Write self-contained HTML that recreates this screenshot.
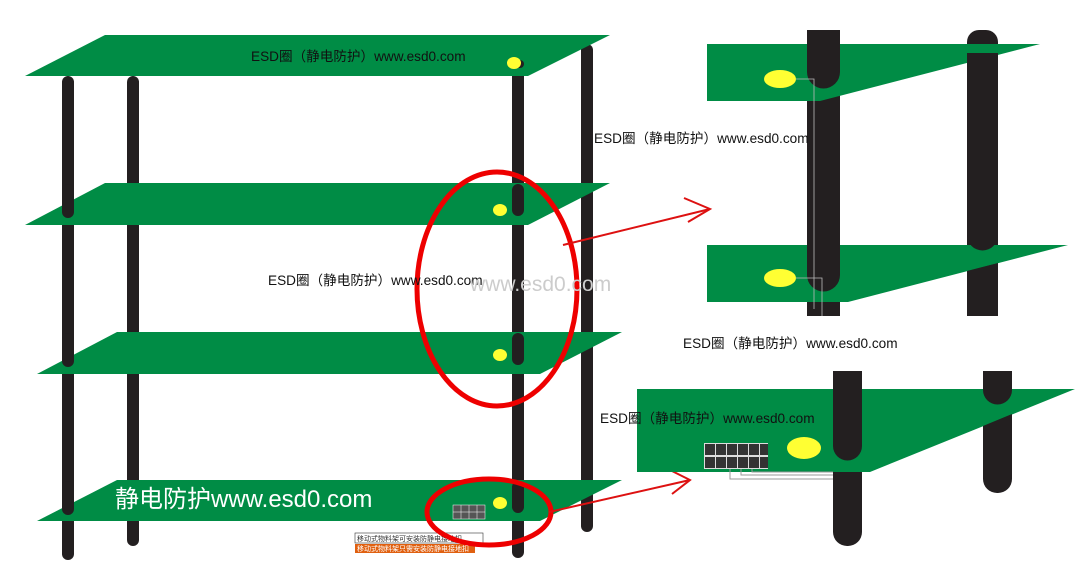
<!DOCTYPE html>
<html><head><meta charset="utf-8"><style>
html,body{margin:0;padding:0;background:#fff;width:1091px;height:573px;overflow:hidden}
svg{display:block}
text{font-family:"Liberation Sans","Noto Sans CJK SC",sans-serif}
</style></head><body>
<svg width="1091" height="573" viewBox="0 0 1091 573" xmlns="http://www.w3.org/2000/svg">
<g fill="#231f20">
<rect x="127" y="76" width="12" height="470" rx="6"/>
<rect x="581" y="44" width="12" height="488" rx="6"/>
<rect x="62" y="76" width="12" height="484" rx="6"/>
<rect x="512" y="60" width="12" height="498" rx="6"/>
</g>
<g fill="#008c45">
<polygon points="105,35 610,35 528,76 25,76"/>
<polygon points="105,183 610,183 528,225 25,225"/>
<polygon points="117,332 622,332 540,374 37,374"/>
<polygon points="117,480 622,480 540,521 37,521"/>
</g>
<g fill="#231f20">
<rect x="512" y="60" width="12" height="8" rx="4"/>
<rect x="512" y="184" width="12" height="32" rx="6"/>
<rect x="512" y="333" width="12" height="32" rx="6"/>
<rect x="512" y="481" width="12" height="32" rx="6"/>
<rect x="62" y="184" width="12" height="34" rx="6"/>
<rect x="62" y="333" width="12" height="34" rx="6"/>
<rect x="62" y="481" width="12" height="34" rx="6"/>
</g>
<g fill="#ffff33">
<ellipse cx="514" cy="63" rx="7" ry="6"/>
<ellipse cx="500" cy="210" rx="7" ry="6"/>
<ellipse cx="500" cy="355" rx="7" ry="6"/>
<ellipse cx="500" cy="503" rx="7" ry="6"/>
</g>
<text x="251" y="61" font-size="13.6" fill="#111">ESD圈（静电防护）www.esd0.com</text>
<text x="115" y="507" font-size="24" fill="#fff">静电防护www.esd0.com</text>
<rect x="453" y="505" width="32" height="14" fill="#555" stroke="#fff" stroke-width="0.5"/>
<path d="M453,512 h32 M461,505 v14 M469,505 v14 M477,505 v14" stroke="#fff" stroke-width="0.5"/>
<rect x="355" y="533" width="128" height="10" fill="#fff" stroke="#333" stroke-width="0.6"/>
<text x="357" y="541" font-size="7" fill="#333">移动式物料架可安装防静电接地扣</text>
<rect x="355" y="544" width="120" height="9" fill="#e06010"/>
<text x="357" y="551" font-size="7" fill="#fff">移动式物料架只需安装防静电接地扣</text>
<ellipse cx="497" cy="289" rx="80" ry="117" fill="none" stroke="#e00" stroke-width="5"/>
<ellipse cx="489" cy="512" rx="62" ry="33" fill="none" stroke="#e00" stroke-width="5"/>
<text x="268" y="285" font-size="13.6" fill="#111">ESD圈（静电防护）www.esd0.com</text>
<text x="470" y="291" font-size="21" fill="#ccc">www.esd0.com</text>
<g stroke="#d11" stroke-width="2" fill="none">
<line x1="563" y1="245" x2="710" y2="209"/>
<polyline points="684,198 710,209 688,222"/>
<line x1="549" y1="512" x2="690" y2="480"/>
<polyline points="666,468 690,480 672,494"/>
</g>
<!-- top right inset -->
<g fill="#231f20">
<rect x="807" y="30" width="33" height="286"/>
<rect x="967" y="30" width="31" height="286" rx="12"/>
<rect x="967" y="200" width="31" height="116"/>
</g>
<polygon points="707,44 1040,44 820,101 707,101" fill="#008c45"/>
<polygon points="707,245 1068,245 848,302 707,302" fill="#008c45"/>
<g fill="#231f20">
<path d="M807,44 h33 v28 a16.5,16.5 0 0 1 -33,0 z"/>
<rect x="967" y="53" width="31" height="190"/>
<path d="M807,245 h33 v30 a16.5,16.5 0 0 1 -33,0 z"/>
<path d="M967,245 h31 v-10 a15.5,15.5 0 0 1 -31,0 z"/>
<polygon points="967,271 998,263 998,316 967,316"/>
</g>
<path d="M796,79 h18 v230 M796,278 h26 v38" stroke="#bbb" fill="none" stroke-width="0.8"/>
<ellipse cx="780" cy="79" rx="16" ry="9" fill="#ffff33"/>
<ellipse cx="780" cy="278" rx="16" ry="9" fill="#ffff33"/>
<text x="594" y="143" font-size="13.6" fill="#111">ESD圈（静电防护）www.esd0.com</text>
<text x="683" y="348" font-size="13.6" fill="#111">ESD圈（静电防护）www.esd0.com</text>
<!-- bottom right inset -->
<g fill="#231f20">
<rect x="833" y="371" width="29" height="175" rx="14"/>
<rect x="833" y="371" width="29" height="30"/>
<rect x="983" y="371" width="29" height="122" rx="14"/>
<rect x="983" y="371" width="29" height="30"/>
</g>
<polygon points="637,389 1075,389 870,472 637,472" fill="#008c45"/>
<g fill="#231f20">
<path d="M833,389 h29 v57 a14.5,14.5 0 0 1 -29,0 z"/>
<path d="M983,389 h29 v1 a14.5,14.5 0 0 1 -29,0 z"/>
<polygon points="983,426 1012,414 1012,440 983,440"/>
</g>
<ellipse cx="804" cy="448" rx="17" ry="11" fill="#ffff33"/>
<rect x="704" y="443" width="64" height="26" fill="#ddd"/>
<g fill="#333">
<rect x="705" y="444" width="10" height="11"/><rect x="716" y="444" width="10" height="11"/><rect x="727" y="444" width="10" height="11"/><rect x="738" y="444" width="10" height="11"/><rect x="749" y="444" width="10" height="11"/><rect x="760" y="444" width="8" height="11"/>
<rect x="705" y="457" width="10" height="11"/><rect x="716" y="457" width="10" height="11"/><rect x="727" y="457" width="10" height="11"/><rect x="738" y="457" width="10" height="11"/><rect x="749" y="457" width="10" height="11"/><rect x="760" y="457" width="8" height="11"/>
</g>
<path d="M730,469 v10 h103 M741,469 v6 h92 M752,469 v3 h81" stroke="#999" fill="none"/>
<text x="600" y="423" font-size="13.6" fill="#111">ESD圈（静电防护）www.esd0.com</text>
</svg>
</body></html>
